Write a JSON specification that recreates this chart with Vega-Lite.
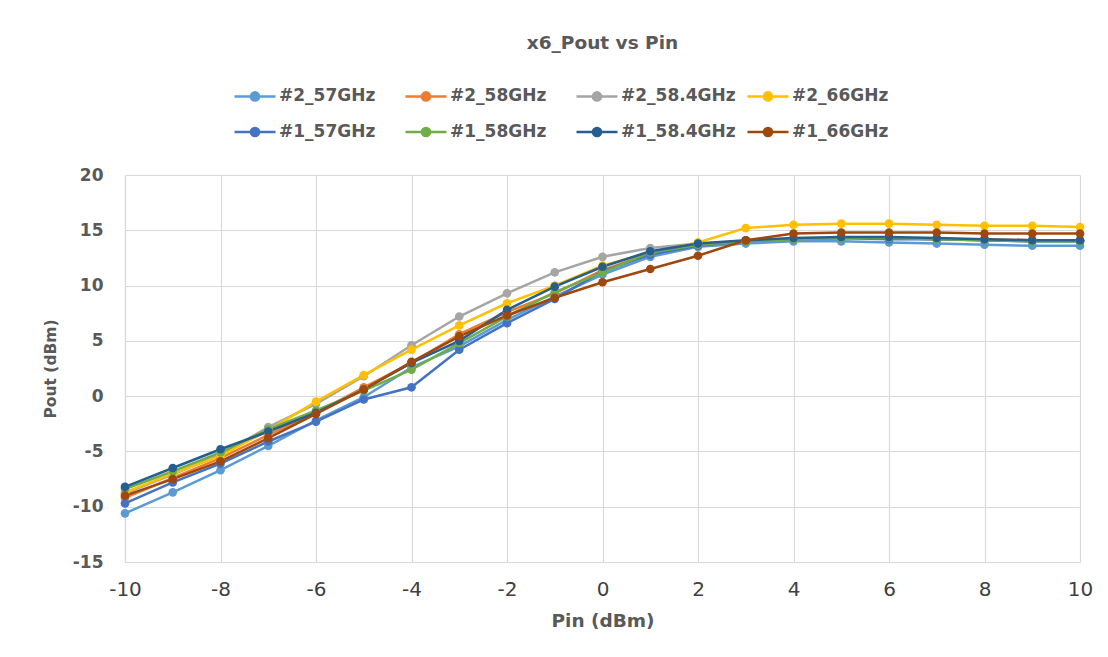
{
  "$schema": "https://vega.github.io/schema/vega-lite/v6.json",
  "width": 955,
  "height": 387,
  "autosize": "none",
  "padding": {"left": 125, "top": 175, "right": 28, "bottom": 95},
  "background": "white",
  "title": {"text": "x6_Pout vs Pin", "anchor": "middle", "offset": 22, "fontSize": 18.5, "font": "DejaVu Sans", "fontWeight": "bold", "color": "#595959"},
  "config": {
    "view": {"stroke": null},
    "axis": {"gridColor": "#D9D9D9", "domainColor": "#D9D9D9", "ticks": false, "gridWidth": 1.2, "domainWidth": 1.2}
  },
  "datasets": {
    "pts": [
      {"s":"#2_57GHz","x":-10,"y":-10.6},{"s":"#2_57GHz","x":-9,"y":-8.7},{"s":"#2_57GHz","x":-8,"y":-6.7},{"s":"#2_57GHz","x":-7,"y":-4.5},{"s":"#2_57GHz","x":-6,"y":-2.2},{"s":"#2_57GHz","x":-5,"y":-0.1},{"s":"#2_57GHz","x":-4,"y":2.6},{"s":"#2_57GHz","x":-3,"y":4.5},{"s":"#2_57GHz","x":-2,"y":6.9},{"s":"#2_57GHz","x":-1,"y":9.0},{"s":"#2_57GHz","x":0,"y":11.0},{"s":"#2_57GHz","x":1,"y":12.6},{"s":"#2_57GHz","x":2,"y":13.5},{"s":"#2_57GHz","x":3,"y":13.8},{"s":"#2_57GHz","x":4,"y":14.0},{"s":"#2_57GHz","x":5,"y":14.0},{"s":"#2_57GHz","x":6,"y":13.9},{"s":"#2_57GHz","x":7,"y":13.8},{"s":"#2_57GHz","x":8,"y":13.7},{"s":"#2_57GHz","x":9,"y":13.6},{"s":"#2_57GHz","x":10,"y":13.6},
      {"s":"#2_58GHz","x":-10,"y":-9.2},{"s":"#2_58GHz","x":-9,"y":-7.4},{"s":"#2_58GHz","x":-8,"y":-5.6},{"s":"#2_58GHz","x":-7,"y":-3.5},{"s":"#2_58GHz","x":-6,"y":-1.5},{"s":"#2_58GHz","x":-5,"y":0.8},{"s":"#2_58GHz","x":-4,"y":3.0},{"s":"#2_58GHz","x":-3,"y":5.6},{"s":"#2_58GHz","x":-2,"y":7.6},{"s":"#2_58GHz","x":-1,"y":9.3},{"s":"#2_58GHz","x":0,"y":11.4},{"s":"#2_58GHz","x":1,"y":12.9},{"s":"#2_58GHz","x":2,"y":13.6},{"s":"#2_58GHz","x":3,"y":14.0},{"s":"#2_58GHz","x":4,"y":14.2},{"s":"#2_58GHz","x":5,"y":14.3},{"s":"#2_58GHz","x":6,"y":14.3},{"s":"#2_58GHz","x":7,"y":14.2},{"s":"#2_58GHz","x":8,"y":14.2},{"s":"#2_58GHz","x":9,"y":14.1},{"s":"#2_58GHz","x":10,"y":14.1},
      {"s":"#2_58.4GHz","x":-10,"y":-8.8},{"s":"#2_58.4GHz","x":-9,"y":-7.1},{"s":"#2_58.4GHz","x":-8,"y":-5.3},{"s":"#2_58.4GHz","x":-7,"y":-2.8},{"s":"#2_58.4GHz","x":-6,"y":-0.7},{"s":"#2_58.4GHz","x":-5,"y":1.8},{"s":"#2_58.4GHz","x":-4,"y":4.6},{"s":"#2_58.4GHz","x":-3,"y":7.2},{"s":"#2_58.4GHz","x":-2,"y":9.3},{"s":"#2_58.4GHz","x":-1,"y":11.2},{"s":"#2_58.4GHz","x":0,"y":12.6},{"s":"#2_58.4GHz","x":1,"y":13.4},{"s":"#2_58.4GHz","x":2,"y":13.8},{"s":"#2_58.4GHz","x":3,"y":14.0},{"s":"#2_58.4GHz","x":4,"y":14.2},{"s":"#2_58.4GHz","x":5,"y":14.3},{"s":"#2_58.4GHz","x":6,"y":14.3},{"s":"#2_58.4GHz","x":7,"y":14.2},{"s":"#2_58.4GHz","x":8,"y":14.1},{"s":"#2_58.4GHz","x":9,"y":14.0},{"s":"#2_58.4GHz","x":10,"y":14.0},
      {"s":"#2_66GHz","x":-10,"y":-8.7},{"s":"#2_66GHz","x":-9,"y":-7.0},{"s":"#2_66GHz","x":-8,"y":-5.4},{"s":"#2_66GHz","x":-7,"y":-3.1},{"s":"#2_66GHz","x":-6,"y":-0.5},{"s":"#2_66GHz","x":-5,"y":1.9},{"s":"#2_66GHz","x":-4,"y":4.2},{"s":"#2_66GHz","x":-3,"y":6.4},{"s":"#2_66GHz","x":-2,"y":8.4},{"s":"#2_66GHz","x":-1,"y":10.0},{"s":"#2_66GHz","x":0,"y":11.8},{"s":"#2_66GHz","x":1,"y":13.0},{"s":"#2_66GHz","x":2,"y":13.9},{"s":"#2_66GHz","x":3,"y":15.2},{"s":"#2_66GHz","x":4,"y":15.5},{"s":"#2_66GHz","x":5,"y":15.6},{"s":"#2_66GHz","x":6,"y":15.6},{"s":"#2_66GHz","x":7,"y":15.5},{"s":"#2_66GHz","x":8,"y":15.4},{"s":"#2_66GHz","x":9,"y":15.4},{"s":"#2_66GHz","x":10,"y":15.3},
      {"s":"#1_57GHz","x":-10,"y":-9.7},{"s":"#1_57GHz","x":-9,"y":-7.8},{"s":"#1_57GHz","x":-8,"y":-6.1},{"s":"#1_57GHz","x":-7,"y":-4.1},{"s":"#1_57GHz","x":-6,"y":-2.3},{"s":"#1_57GHz","x":-5,"y":-0.3},{"s":"#1_57GHz","x":-4,"y":0.8},{"s":"#1_57GHz","x":-3,"y":4.2},{"s":"#1_57GHz","x":-2,"y":6.6},{"s":"#1_57GHz","x":-1,"y":8.8},{"s":"#1_57GHz","x":0,"y":11.3},{"s":"#1_57GHz","x":1,"y":12.8},{"s":"#1_57GHz","x":2,"y":13.6},{"s":"#1_57GHz","x":3,"y":14.0},{"s":"#1_57GHz","x":4,"y":14.2},{"s":"#1_57GHz","x":5,"y":14.3},{"s":"#1_57GHz","x":6,"y":14.2},{"s":"#1_57GHz","x":7,"y":14.2},{"s":"#1_57GHz","x":8,"y":14.1},{"s":"#1_57GHz","x":9,"y":14.0},{"s":"#1_57GHz","x":10,"y":14.0},
      {"s":"#1_58GHz","x":-10,"y":-8.4},{"s":"#1_58GHz","x":-9,"y":-6.8},{"s":"#1_58GHz","x":-8,"y":-5.1},{"s":"#1_58GHz","x":-7,"y":-3.0},{"s":"#1_58GHz","x":-6,"y":-1.3},{"s":"#1_58GHz","x":-5,"y":0.5},{"s":"#1_58GHz","x":-4,"y":2.4},{"s":"#1_58GHz","x":-3,"y":4.8},{"s":"#1_58GHz","x":-2,"y":7.2},{"s":"#1_58GHz","x":-1,"y":9.4},{"s":"#1_58GHz","x":0,"y":11.2},{"s":"#1_58GHz","x":1,"y":13.0},{"s":"#1_58GHz","x":2,"y":13.7},{"s":"#1_58GHz","x":3,"y":14.0},{"s":"#1_58GHz","x":4,"y":14.2},{"s":"#1_58GHz","x":5,"y":14.3},{"s":"#1_58GHz","x":6,"y":14.3},{"s":"#1_58GHz","x":7,"y":14.2},{"s":"#1_58GHz","x":8,"y":14.1},{"s":"#1_58GHz","x":9,"y":14.0},{"s":"#1_58GHz","x":10,"y":14.0},
      {"s":"#1_58.4GHz","x":-10,"y":-8.2},{"s":"#1_58.4GHz","x":-9,"y":-6.5},{"s":"#1_58.4GHz","x":-8,"y":-4.8},{"s":"#1_58.4GHz","x":-7,"y":-3.2},{"s":"#1_58.4GHz","x":-6,"y":-1.5},{"s":"#1_58.4GHz","x":-5,"y":0.6},{"s":"#1_58.4GHz","x":-4,"y":3.0},{"s":"#1_58.4GHz","x":-3,"y":5.0},{"s":"#1_58.4GHz","x":-2,"y":7.8},{"s":"#1_58.4GHz","x":-1,"y":9.9},{"s":"#1_58.4GHz","x":0,"y":11.7},{"s":"#1_58.4GHz","x":1,"y":13.1},{"s":"#1_58.4GHz","x":2,"y":13.8},{"s":"#1_58.4GHz","x":3,"y":14.1},{"s":"#1_58.4GHz","x":4,"y":14.3},{"s":"#1_58.4GHz","x":5,"y":14.4},{"s":"#1_58.4GHz","x":6,"y":14.4},{"s":"#1_58.4GHz","x":7,"y":14.3},{"s":"#1_58.4GHz","x":8,"y":14.2},{"s":"#1_58.4GHz","x":9,"y":14.1},{"s":"#1_58.4GHz","x":10,"y":14.1},
      {"s":"#1_66GHz","x":-10,"y":-9.0},{"s":"#1_66GHz","x":-9,"y":-7.5},{"s":"#1_66GHz","x":-8,"y":-5.9},{"s":"#1_66GHz","x":-7,"y":-3.8},{"s":"#1_66GHz","x":-6,"y":-1.6},{"s":"#1_66GHz","x":-5,"y":0.6},{"s":"#1_66GHz","x":-4,"y":3.1},{"s":"#1_66GHz","x":-3,"y":5.4},{"s":"#1_66GHz","x":-2,"y":7.3},{"s":"#1_66GHz","x":-1,"y":8.9},{"s":"#1_66GHz","x":0,"y":10.3},{"s":"#1_66GHz","x":1,"y":11.5},{"s":"#1_66GHz","x":2,"y":12.7},{"s":"#1_66GHz","x":3,"y":14.1},{"s":"#1_66GHz","x":4,"y":14.7},{"s":"#1_66GHz","x":5,"y":14.8},{"s":"#1_66GHz","x":6,"y":14.8},{"s":"#1_66GHz","x":7,"y":14.8},{"s":"#1_66GHz","x":8,"y":14.7},{"s":"#1_66GHz","x":9,"y":14.7},{"s":"#1_66GHz","x":10,"y":14.7}
    ]
  },
  "data": {"name": "pts"},
  "mark": {"type": "line", "strokeWidth": 2.5, "point": {"filled": true, "size": 75, "opacity": 1}},
  "encoding": {
    "x": {"field": "x", "type": "quantitative", "scale": {"domain": [-10, 10], "nice": false, "zero": false},
      "axis": {"values": [-10,-8,-6,-4,-2,0,2,4,6,8,10], "labelExpr": "'' + datum.value", "title": "Pin (dBm)", "labelFont": "DejaVu Sans", "labelFontSize": 20, "labelColor": "#404040", "labelPadding": 17, "titleFont": "DejaVu Sans", "titleFontSize": 18.5, "titleFontWeight": "bold", "titleColor": "#595959", "titlePadding": 12, "labelFlush": false}},
    "y": {"field": "y", "type": "quantitative", "scale": {"domain": [-15, 20], "nice": false, "zero": false},
      "axis": {"values": [-15,-10,-5,0,5,10,15,20], "labelExpr": "'' + datum.value", "title": "Pout (dBm)", "labelFont": "DejaVu Sans", "labelFontSize": 17, "labelFontWeight": "bold", "labelColor": "#595959", "labelPadding": 22, "titleFont": "DejaVu Sans", "titleFontSize": 15.5, "titleFontWeight": "bold", "titleColor": "#595959", "titlePadding": 14, "labelFlush": false}},
    "color": {"field": "s", "type": "nominal", "sort": null,
      "scale": {"domain": ["#2_57GHz","#2_58GHz","#2_58.4GHz","#2_66GHz","#1_57GHz","#1_58GHz","#1_58.4GHz","#1_66GHz"],
                "range": ["#5B9BD5","#ED7D31","#A5A5A5","#FFC000","#4472C4","#70AD47","#255E91","#9E480E"]},
      "legend": {"title": null, "orient": "none", "direction": "horizontal", "legendX": 108, "legendY": -101, "columns": 4, "gridAlign": "all", "columnPadding": 6, "rowPadding": 4,
        "symbolType": "M-1,0L-0.2,0M0.2,0L1,0M-0.2,0A0.2,0.2 0 1,1 0.2,0A0.2,0.2 0 1,1 -0.2,0Z", "symbolSize": 1681, "symbolStrokeWidth": 2.5, "symbolOpacity": 1,
        "labelFont": "DejaVu Sans", "labelFontSize": 17, "labelFontWeight": "bold", "labelColor": "#595959", "labelOffset": 2,
        "encode": {"symbols": {"update": {"fill": {"scale": "color", "field": "value"}, "stroke": {"scale": "color", "field": "value"}}}}}}
  },
  "order": {"field": "x"}
}
